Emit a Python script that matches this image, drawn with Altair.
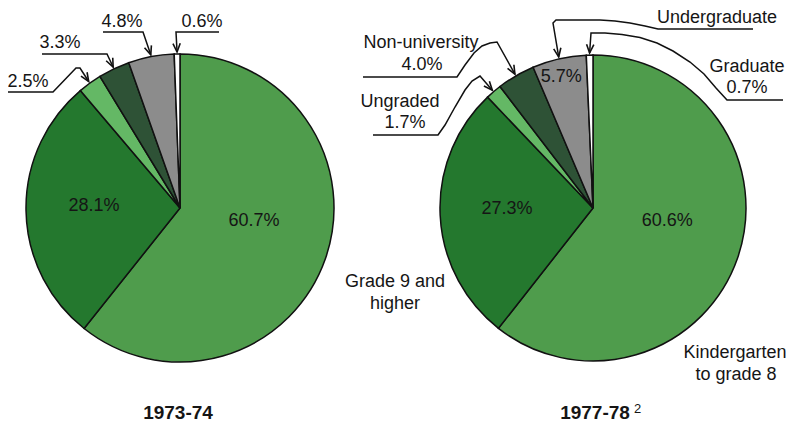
import math
import altair as alt
import pandas as pd

# ---------------- data ----------------
categories = ["Kindergarten to grade 8", "Grade 9 and higher", "Ungraded",
              "Non-university", "Undergraduate", "Graduate"]
years = ["1973-74", "1977-78"]
share_1973 = [60.7, 28.1, 2.5, 3.3, 4.8, 0.6]
share_1977 = [60.6, 27.3, 1.7, 4.0, 5.7, 0.7]
colors = ["#4f9c4c", "#24782e", "#64b865", "#2e5236", "#8c8c8c", "#ffffff"]
footnote = "2"

shares = {"1973-74": share_1973, "1977-78": share_1977}

# ---------------- layout (reference pixel coordinates) ----------------
W, H = 782, 417
OFF = 8
FONT = "Liberation Sans"
pies = {"1973-74": dict(cx=180, cy=208, r=154),
        "1977-78": dict(cx=593, cy=208, r=153)}
# slices labelled inside the pie
inside = {"1973-74": [0, 1], "1977-78": [0, 1, 4]}


def pct(v):
    return f"{v:.1f}%"


xs = alt.Scale(domain=[OFF, W + OFF], nice=False, zero=False)
ys = alt.Scale(domain=[OFF, H + OFF], nice=False, zero=False, reverse=True)
theta_scale = alt.Scale(domain=[0, 100])
color_scale = alt.Scale(domain=categories, range=colors)

layers = []
for yr in years:
    p = pies[yr]
    vals = shares[yr]
    rows = []
    for i, (c, v) in enumerate(zip(categories, vals)):
        rows.append(dict(cat=c, idx=i, value=v,
                         lab_big=pct(v) if (i == 0 and i in inside[yr]) else "",
                         lab_mid=pct(v) if (i == 1 and i in inside[yr]) else "",
                         lab_edge=pct(v) if (i >= 2 and i in inside[yr]) else ""))
    df = pd.DataFrame(rows)
    base = alt.Chart(df).encode(
        theta=alt.Theta("value:Q", stack=True, scale=theta_scale),
        order=alt.Order("idx:Q", sort="ascending"),
        detail=alt.Detail("cat:N"),
        x=alt.value(p["cx"] - OFF),
        y=alt.value(p["cy"] - OFF),
    )
    arc = base.mark_arc(outerRadius=p["r"], stroke="#111111", strokeWidth=1.5).encode(
        color=alt.Color("cat:N", scale=color_scale, legend=None))
    tstyle = dict(font=FONT, fontSize=18, color="#151515", align="center", baseline="middle")
    t_big = base.mark_text(radius=70, dx=8, dy=-10, **tstyle).encode(text="lab_big:N")
    t_mid = base.mark_text(radius=86, dy=-3, **tstyle).encode(text="lab_mid:N")
    t_edge = base.mark_text(radius=134, dx=-2, **tstyle).encode(text="lab_edge:N")
    layers += [arc, t_big, t_mid, t_edge]

# ---------------- leader lines with arrows ----------------
bends = {
    ("1973-74", 5): [(219, 32), (176, 32)],
    ("1973-74", 4): [(103, 32), (143, 32)],
    ("1973-74", 3): [(42, 54), (107, 54)],
    ("1973-74", 2): [(8, 92), (53, 92), (76, 68), (80, 68)],
    ("1977-78", 5): [(783, 100), (727, 100), (716, 88), (704, 74), (690, 62), (673, 51),
                     (657, 43), (640, 37.5), (622, 34.5), (605, 33), (591, 33)],
    ("1977-78", 4): [(753, 29), (658, 29), (645, 26), (630, 23), (615, 21), (600, 20),
                     (556, 20), (553, 23)],
    ("1977-78", 3): [(363, 77), (457, 77), (465, 65), (474, 53), (482, 46), (490, 43),
                     (497, 42)],
    ("1977-78", 2): [(373, 135), (438, 135), (445, 125), (455, 107), (465, 90),
                     (472, 81), (480, 76)],
}

line_rows, arrow_rows = [], []
for (yr, k), pts in bends.items():
    p = pies[yr]
    vals = shares[yr]
    mid = (sum(vals[:k]) + vals[k] / 2) / 100 * 2 * math.pi
    tip = (p["cx"] + (p["r"] + 2) * math.sin(mid), p["cy"] - (p["r"] + 2) * math.cos(mid))
    full = pts + [tip]
    pid = f"{yr}-{k}"
    for s, (x, y) in enumerate(full):
        line_rows.append(dict(pid=pid, seq=s, x=x, y=y))
    bx, by = pts[-1]
    dx, dy = tip[0] - bx, tip[1] - by
    ang = math.degrees(math.atan2(-dx, dy)) % 360
    arrow_rows.append(dict(x=tip[0], y=tip[1], ang=ang))

lines = alt.Chart(pd.DataFrame(line_rows)).mark_line(
    color="#111111", strokeWidth=1.5).encode(
    x=alt.X("x:Q", scale=xs, axis=None),
    y=alt.Y("y:Q", scale=ys, axis=None),
    detail="pid:N",
    order="seq:Q",
)
arrows = alt.Chart(pd.DataFrame(arrow_rows)).mark_point(
    shape="M-0.42,-1L0,0L0.42,-1", size=300, filled=False,
    stroke="#111111", strokeWidth=1.6, opacity=1).encode(
    x=alt.X("x:Q", scale=xs, axis=None),
    y=alt.Y("y:Q", scale=ys, axis=None),
    angle=alt.Angle("ang:Q", scale=None),
)
layers += [lines, arrows]

# ---------------- text annotations ----------------
a73, a77 = share_1973, share_1977
ann = [
    (202, 27, pct(a73[5])), (122, 27, pct(a73[4])), (60, 48, pct(a73[3])), (28, 87, pct(a73[2])),
    (717, 23, categories[4]),
    (747, 72, categories[5]), (747, 93, pct(a77[5])),
    (421, 48, categories[3]), (422, 70, pct(a77[3])),
    (400, 107, categories[2]), (405, 128, pct(a77[2])),
    (395, 287, "Grade 9 and"), (395, 309, "higher"),
    (735, 358, "Kindergarten"), (736, 380, "to grade 8"),
]
ann_df = pd.DataFrame(ann, columns=["x", "y", "t"])
ann_layer = alt.Chart(ann_df).mark_text(
    font=FONT, fontSize=18, color="#151515", align="center", baseline="alphabetic").encode(
    x=alt.X("x:Q", scale=xs, axis=None),
    y=alt.Y("y:Q", scale=ys, axis=None),
    text="t:N",
)
title_df = pd.DataFrame([(178, 419, years[0]), (595, 419, years[1])], columns=["x", "y", "t"])
title_layer = alt.Chart(title_df).mark_text(
    font=FONT, fontSize=19, fontWeight="bold", color="#151515", align="center",
    baseline="alphabetic").encode(
    x=alt.X("x:Q", scale=xs, axis=None),
    y=alt.Y("y:Q", scale=ys, axis=None),
    text="t:N",
)
sup_df = pd.DataFrame([(634, 413, footnote)], columns=["x", "y", "t"])
sup_layer = alt.Chart(sup_df).mark_text(
    font=FONT, fontSize=13, color="#151515", align="left", baseline="alphabetic").encode(
    x=alt.X("x:Q", scale=xs, axis=None),
    y=alt.Y("y:Q", scale=ys, axis=None),
    text="t:N",
)
layers += [ann_layer, title_layer, sup_layer]

chart = alt.layer(*layers).properties(
    width=W, height=H, padding=0,
    autosize=alt.AutoSizeParams(type="none"),
    background="white",
).configure_view(stroke=None)

chart.save("out.html", embed_options={"renderer": "svg", "actions": False})
